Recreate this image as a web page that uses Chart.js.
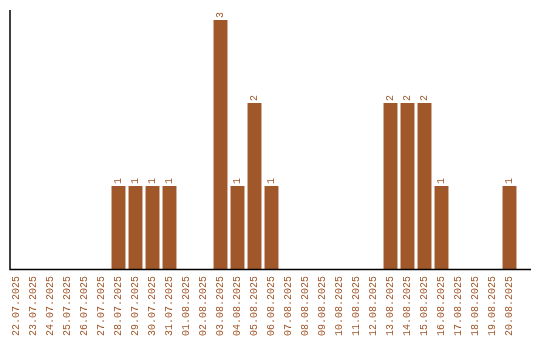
<!DOCTYPE html>
<html>
<head>
<meta charset="utf-8">
<script src="https://cdn.jsdelivr.net/npm/chart.js@4"></script>
<style>
  html, body { margin: 0; padding: 0; background: #fff; }
  #wrap { width: 540px; height: 340px; }
</style>
</head>
<body>
<div id="wrap"><canvas id="dailyChart"></canvas></div>
<script>
const dates = [
  '22.07.2025', '23.07.2025', '24.07.2025', '25.07.2025', '26.07.2025', '27.07.2025',
  '28.07.2025', '29.07.2025', '30.07.2025', '31.07.2025', '01.08.2025', '02.08.2025',
  '03.08.2025', '04.08.2025', '05.08.2025', '06.08.2025', '07.08.2025', '08.08.2025',
  '09.08.2025', '10.08.2025', '11.08.2025', '12.08.2025', '13.08.2025', '14.08.2025',
  '15.08.2025', '16.08.2025', '17.08.2025', '18.08.2025', '19.08.2025', '20.08.2025'
];
const counts = [
  0, 0, 0, 0, 0, 0,
  1, 1, 1, 1, 0, 0,
  3, 1, 2, 1, 0, 0,
  0, 0, 0, 0, 2, 2,
  2, 1, 0, 0, 0, 1
];

const barColor = '#a0572a';
const fontFamily = '"Liberation Mono", monospace';

// axis lines + rotated value labels
const extras = {
  id: 'extras',
  afterDatasetsDraw(chart) {
    const ctx = chart.ctx;
    const area = chart.chartArea;
    ctx.save();
    ctx.strokeStyle = '#000';
    ctx.lineWidth = 1.5;
    ctx.beginPath();
    ctx.moveTo(area.left + 2, area.top - 10);
    ctx.lineTo(area.left + 2, area.bottom + 0.5);
    ctx.lineTo(area.right + 13, area.bottom + 0.5);
    ctx.stroke();

    ctx.fillStyle = barColor;
    ctx.font = '10px ' + fontFamily;
    ctx.textAlign = 'left';
    ctx.textBaseline = 'middle';
    chart.getDatasetMeta(0).data.forEach((bar, i) => {
      if (!counts[i]) return;
      ctx.save();
      ctx.translate(bar.x, bar.y - 2);
      ctx.rotate(-Math.PI / 2);
      ctx.fillText(String(counts[i]), 0, 0);
      ctx.restore();
    });
    ctx.restore();
  }
};

new Chart(document.getElementById('dailyChart').getContext('2d'), {
  type: 'bar',
  data: {
    labels: dates,
    datasets: [{
      data: counts,
      backgroundColor: barColor,
      borderWidth: 0,
      barPercentage: 1,
      categoryPercentage: 0.82
    }]
  },
  options: {
    responsive: true,
    maintainAspectRatio: false,
    animation: false,
    layout: { padding: { left: 8, right: 22, top: 20, bottom: -3 } },
    plugins: {
      legend: { display: false },
      tooltip: { enabled: false }
    },
    scales: {
      x: {
        grid: { display: false, drawTicks: false },
        border: { display: false },
        ticks: {
          color: barColor,
          font: { family: fontFamily, size: 10 },
          minRotation: 90,
          maxRotation: 90,
          autoSkip: false,
          padding: 7
        }
      },
      y: {
        display: false,
        min: 0,
        max: 3
      }
    }
  },
  plugins: [extras]
});
</script>
</body>
</html>
